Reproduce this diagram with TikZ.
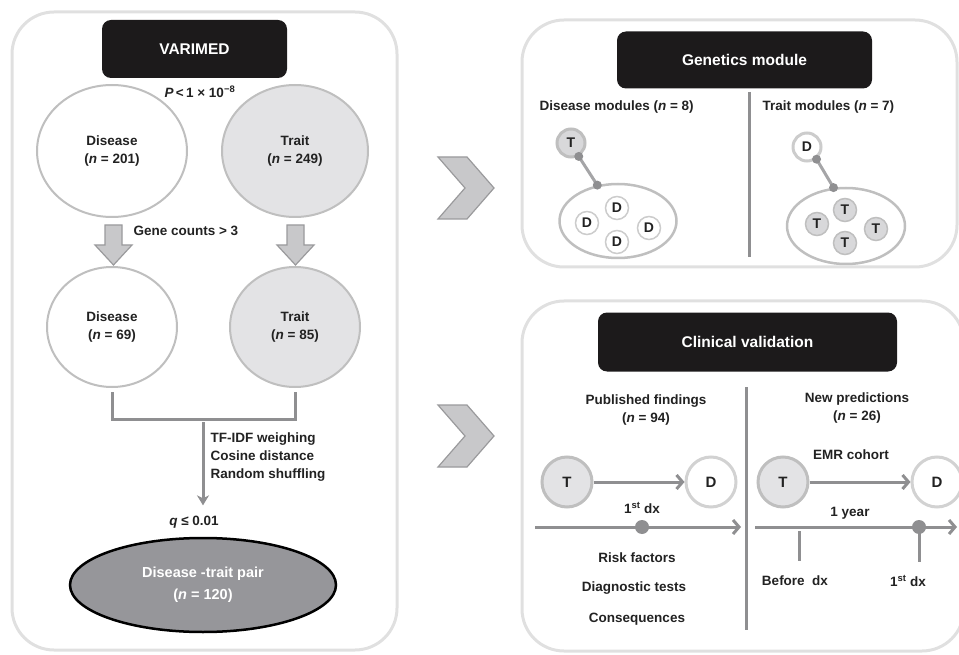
\documentclass[tikz,border=0pt]{standalone}
\usepackage{fontspec}
\setmainfont{Liberation Sans}
\usetikzlibrary{shapes.geometric,arrows.meta}

\definecolor{panelgray}{HTML}{E0E0E0}
\definecolor{ringgray}{HTML}{BFBFBF}
\definecolor{linegray}{HTML}{8F8F91}
\definecolor{lightfill}{HTML}{E3E3E5}
\definecolor{pairfill}{HTML}{96969A}
\definecolor{boxblack}{HTML}{1C1A1B}
\definecolor{chevfill}{HTML}{C8C8CA}
\definecolor{chevdraw}{HTML}{9A9A9C}
\definecolor{txt}{HTML}{222222}

\newcommand{\bodyfont}{\fontsize{13.5}{18}\selectfont\bfseries}
\newcommand{\titlefont}{\fontsize{15.5}{18}\selectfont\bfseries}

\tikzset{
  panel/.style={draw=panelgray,line width=3pt,rounded corners=42pt},
  titlebox/.style={fill=boxblack,rounded corners=9pt,text=white,font=\titlefont},
  lbl/.style={text=txt,font=\bodyfont,align=center},
  setW/.style={ellipse,draw=ringgray,line width=2pt,fill=white,lbl},
  setG/.style={setW,fill=lightfill},
  blockarrow/.style={fill=chevfill,draw=chevdraw,line width=1.2pt},
  conn/.style={draw=linegray,line width=3pt},
  arr/.style={conn,-{Straight Barb[length=6pt,width=14pt]}},
  downarr/.style={conn,-{Stealth[length=10pt,width=12pt,inset=3pt]}},
  divider/.style={draw=linegray,line width=3pt},
  modring/.style={ellipse,draw=ringgray,line width=2.5pt},
  dsmall/.style={circle,draw=ringgray!80,line width=1.5pt,fill=white,minimum size=23pt,inner sep=0pt,lbl,font=\fontsize{14}{16}\selectfont\bfseries},
  tsmall/.style={dsmall,fill=lightfill!95!black,draw=ringgray},
  link/.style={draw=linegray!80,line width=3pt},
  dot/.style={fill=linegray},
  tbig/.style={circle,draw=ringgray,line width=3pt,fill=lightfill,minimum size=50pt,inner sep=0pt,lbl,font=\fontsize{15}{16}\selectfont\bfseries},
  dbig/.style={tbig,fill=white,draw=ringgray!70}
}

\begin{document}
\begin{tikzpicture}[x=1pt,y=-1pt]
\useasboundingbox (0,0) rectangle (959,655);

% left panel
\draw[panel] (12,12) rectangle (397,650);
\node[titlebox,minimum width=185pt,minimum height=58pt](V) at (194.5,49){VARIMED};
\node[lbl](P) at (200,92){{\itshape P}\,<\,1 × 10\textsuperscript{−8}};

\node[setW,minimum width=150pt,minimum height=132pt](D1) at (112,151){Disease\\(\textit{n} = 201)};
\node[setG,minimum width=146pt,minimum height=132pt](T1) at (295,151){Trait\\(\textit{n} = 249)};

\filldraw[blockarrow] (105,225) -- (122,225) -- (122,245) -- (132,245) -- (113.5,265) -- (95,245) -- (105,245) -- cycle;
\filldraw[blockarrow] (287,225) -- (304,225) -- (304,245) -- (314,245) -- (295.5,265) -- (277,245) -- (287,245) -- cycle;
\node[lbl,anchor=west](G) at (130,231){Gene counts > 3};

\node[setW,minimum width=130pt,minimum height=120pt](D2) at (112,327){Disease\\(\textit{n} = 69)};
\node[setG,minimum width=130pt,minimum height=120pt](T2) at (295,327){Trait\\(\textit{n} = 85)};

\draw[conn] ([yshift=-4pt]D2.south) -- ++(0,27) -| ([yshift=-4pt]T2.south);
\coordinate (M) at (203,422);
\node[lbl](Q) at (194,522){\textit{q} ≤ 0.01};
\draw[downarr] (M) -- ([yshift=7pt]Q.north -| M);
\node[lbl,align=left,anchor=north west](S) at (207,429){TF-IDF weighing\\Cosine distance\\Random shuffling};

\node[ellipse,draw=black,line width=2.5pt,fill=pairfill,text=white,font=\fontsize{14.5}{22}\selectfont\bfseries,align=center,minimum width=266pt,minimum height=94pt](R) at (203,585){Disease -trait pair\\(\textit{n} = 120)};

% chevrons
\filldraw[blockarrow] (438,157) -- (467,157) -- (494,188) -- (467,219) -- (438,219) -- (465,188) -- cycle;
\filldraw[blockarrow] (438,405) -- (467,405) -- (494,436) -- (467,467) -- (438,467) -- (465,436) -- cycle;

% genetics module
\draw[panel] (522,20) rectangle (957,267);
\node[titlebox,minimum width=255pt,minimum height=57pt](GM) at (744.5,60){Genetics module};
\draw[divider] (749,92) -- (749,257);
\node[lbl,anchor=west](DM) at (536,107){Disease modules (\textit{n} = 8)};
\node[lbl,anchor=west](TM) at (759,107){Trait modules (\textit{n} = 7)};

\node[tsmall,minimum size=28pt,line width=3pt](TA) at (571,143){T};
\node[modring,minimum width=117pt,minimum height=74pt](E1) at (618,221){};
\node[dsmall](Da) at (617,208){D};
\node[dsmall](Db) at (587,223){D};
\node[dsmall](Dc) at (649,228){D};
\node[dsmall](Dd) at (617,242){D};
\draw[link] (TA.-60) -- (E1.120);
\fill[dot] (TA.-60) circle (4.5pt);
\fill[dot] (E1.120) circle (4.5pt);

\node[dsmall,minimum size=28pt,line width=3pt](DA) at (807,147){D};
\node[modring,minimum width=118pt,minimum height=76pt](E2) at (846,226){};
\node[tsmall](Ta) at (845,210){T};
\node[tsmall](Tb) at (817,224){T};
\node[tsmall](Tc) at (876,229){T};
\node[tsmall](Td) at (845,243){T};
\draw[link] (DA.-52) -- (E2.108);
\fill[dot] (DA.-52) circle (4.5pt);
\fill[dot] (E2.108) circle (4.5pt);

% clinical validation
\draw[panel] (522,301) rectangle (964,651);
\node[titlebox,minimum width=299pt,minimum height=59pt](CV) at (747.5,342){Clinical validation};
\draw[divider] (746,387) -- (746,630);

\node[lbl](PF) at (646,410){Published findings\\(\textit{n} = 94)};
\node[tbig](TL) at (567,482){T};
\node[dbig](DL) at (711,482){D};
\draw[arr] (TL) -- (DL);
\node[lbl](F1) at (642,508){1\textsuperscript{st} dx};
\coordinate (L0) at (535,527);
\coordinate (L1) at (741,527);
\draw[arr] (L0) -- (L1);
\fill[linegray] (642,527) circle (7pt);
\node[lbl](RF) at (637,558){Risk factors};
\node[lbl](DT) at (634,588){Diagnostic tests};
\node[lbl](CQ) at (637,619){Consequences};

\node[lbl](NP) at (857,408){New predictions\\(\textit{n} = 26)};
\node[lbl](EC) at (851,455){EMR cohort};
\node[tbig](TR) at (783,482){T};
\node[dbig](DR) at (937,482){D};
\draw[arr] (TR) -- (DR);
\node[lbl](Y) at (850,513){1 year};
\coordinate (R0) at (755,527);
\coordinate (R1) at (957,527);
\draw[arr] (R0) -- (R1);
\coordinate (B0) at (799,531);
\coordinate (F0) at (919,527);
\draw[divider] (B0) -- ++(0,30);
\draw[divider] (F0) -- ++(0,35);
\fill[linegray] (F0) circle (7pt);
\node[lbl](BD) at (795,581){Before~ dx};
\node[lbl](F2) at (908,581){1\textsuperscript{st} dx};

\end{tikzpicture}
\end{document}
